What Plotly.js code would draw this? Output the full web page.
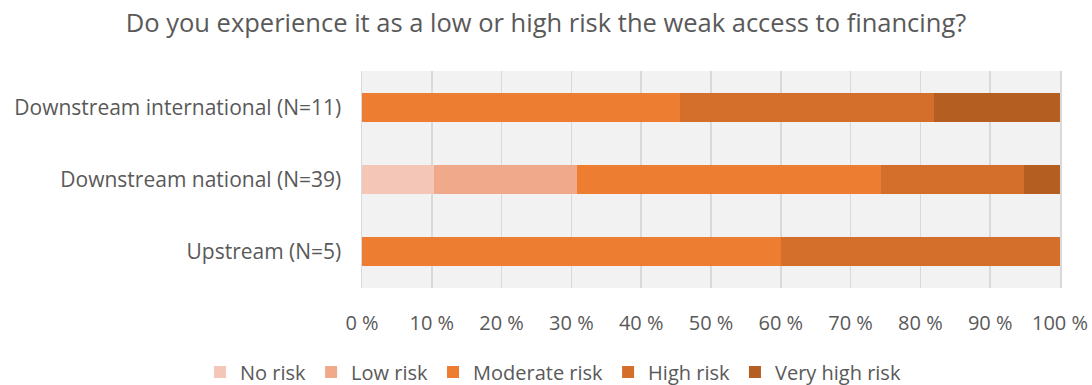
<!DOCTYPE html>
<html>
<head>
<meta charset="utf-8">
<script src="https://cdn.plot.ly/plotly-3.0.1.min.js"></script>
<style>
  html, body { margin: 0; padding: 0; background: #ffffff; }
  #chart { width: 1092px; height: 385px; }
</style>
</head>
<body>
<div id="chart"></div>
<script>
// Respondent groups, listed bottom to top
const groups = ['Upstream (N=5)', 'Downstream national (N=39)', 'Downstream international (N=11)'];

// Share of respondents per risk level (%), same order as groups
const riskLevels = ['No risk', 'Low risk', 'Moderate risk', 'High risk', 'Very high risk'];
const noRisk       = [0,    10.3, 0];
const lowRisk      = [0,    20.5, 0];
const moderateRisk = [60.0, 43.6, 45.5];
const highRisk     = [40.0, 20.5, 36.4];
const veryHighRisk = [0,    5.1,  18.2];

const xTicks = [0, 10, 20, 30, 40, 50, 60, 70, 80, 90, 100];
const xTickLabels = ['0 %', '10 %', '20 %', '30 %', '40 %', '50 %', '60 %', '70 %', '80 %', '90 %', '100 %'];

const seriesValues = [noRisk, lowRisk, moderateRisk, highRisk, veryHighRisk];
const seriesColors = ['#f4c6b7', '#f0a98a', '#ed7d31', '#d36e2b', '#b45e22'];

const fontFamily = '"Open Sans", Lato, sans-serif';
const textColor = '#595959';

const traces = riskLevels.map((name, i) => ({
  type: 'bar',
  orientation: 'h',
  name: name,
  y: groups,
  x: seriesValues[i],
  marker: { color: seriesColors[i], line: { width: 0 } },
  hoverinfo: 'name+x'
}));

const layout = {
  width: 1092,
  height: 385,
  barmode: 'stack',
  bargap: 0.6,
  paper_bgcolor: '#ffffff',
  plot_bgcolor: '#f2f2f2',
  margin: { l: 362, r: 32, t: 71, b: 97, autoexpand: false },
  title: {
    text: 'Do you experience it as a low or high risk the weak access to financing?',
    font: { family: fontFamily, size: 25.5, color: textColor },
    x: 0.5, xanchor: 'center', xref: 'container',
    y: 0.94, yanchor: 'middle', yref: 'container'
  },
  xaxis: {
    range: [0, 100],
    tickvals: xTicks,
    ticktext: xTickLabels,
    showgrid: true,
    gridcolor: '#d9d9d9',
    gridwidth: 1.5,
    zeroline: false,
    ticks: '',
    ticklabelstandoff: 21,
    tickfont: { family: fontFamily, size: 20, color: textColor },
    fixedrange: true
  },
  yaxis: {
    type: 'category',
    categoryorder: 'array',
    categoryarray: groups,
    range: [-0.5, 2.5],
    showgrid: false,
    showline: true,
    mirror: true,
    linecolor: '#d9d9d9',
    linewidth: 1.5,
    ticks: '',
    ticklabelstandoff: 15,
    tickfont: { family: fontFamily, size: 21, color: textColor },
    fixedrange: true
  },
  legend: {
    orientation: 'h',
    x: -0.232,
    xanchor: 'left',
    y: -0.387,
    yanchor: 'middle',
    font: { family: fontFamily, size: 20, color: textColor },
    itemwidth: 30,
    traceorder: 'normal'
  },
  showlegend: true
};

Plotly.newPlot('chart', traces, layout, { displayModeBar: false, staticPlot: true });
</script>
</body>
</html>
